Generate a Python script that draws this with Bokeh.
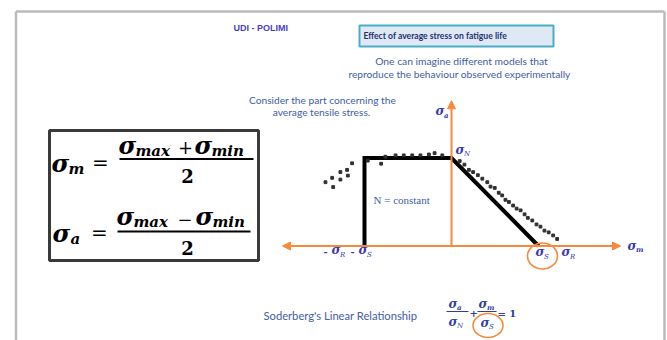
from bokeh.plotting import figure
from bokeh.models import Range1d, Arrow, NormalHead
from bokeh.embed import file_html
from bokeh.resources import INLINE
from bokeh.core.properties import value

# ---------------- data (stresses in MPa) ----------------
sigma_S = 350          # yield strength
sigma_R = 460          # ultimate strength
sigma_N = 200          # fatigue limit at N cycles
axis_m_half = 680      # extent of sigma_m axis
axis_a_top = 330       # extent of sigma_a axis

# Soderberg-type limit (closed polyline): -sigma_S .. sigma_S
limit_m = [-sigma_S, -sigma_S, 0, sigma_S]
limit_a = [0, sigma_N, sigma_N, 0]

# experimental points, compressive mean stress side
exp_left_m = [-507, -480, -476, -447, -447, -420, -417, -400, -337, -283,
              -266, -225, -192, -158, -125, -91, -68, -37]
exp_left_a = [145, 155, 134, 168, 151, 173, 160, 188, 194, 187,
              203, 206, 206, 206, 206, 208, 211, 206]
# experimental points, tensile mean stress side
exp_right_m = [33, 52, 70, 87, 106, 124, 144, 157, 174, 190, 204, 217, 231,
               248, 262, 278, 294, 307, 325, 342, 358, 374, 391, 409, 425]
exp_right_a = [193, 185, 173, 168, 161, 153, 145, 135, 132, 121, 115, 105, 100,
               92, 85, 81, 72, 64, 58, 49, 44, 35, 31, 24, 16]

# ---------------- layout ----------------
W, H = 667, 340
ORIGIN_X, ORIGIN_Y = 451, 245.5   # page position of the diagram origin
PX_PER_M = 87 / sigma_S
PX_PER_A = 88 / sigma_N

ORANGE = "#F58A3C"
BLUE = "#3F5DAA"
SIG = "#3535B5"

p = figure(width=W, height=H, x_range=Range1d(0, W), y_range=Range1d(H, 0),
           output_backend="svg", toolbar_location=None, min_border=0,
           x_axis_location=None, y_axis_location=None)
p.grid.visible = False
p.outline_line_color = None
p.background_fill_color = "white"
p.border_fill_color = "white"

p.extra_x_ranges = {"sm": Range1d((0 - ORIGIN_X) / PX_PER_M, (W - ORIGIN_X) / PX_PER_M)}
p.extra_y_ranges = {"sa": Range1d((ORIGIN_Y - H) / PX_PER_A, (ORIGIN_Y - 0) / PX_PER_A)}


def txt(x, y, s, size, color="black", font="Lato", style="normal", align="left", baseline="middle"):
    p.text(x=[x], y=[y], text=[s], text_font=value(font), text_font_size=f"{size}px",
           text_font_style=style, text_color=color, text_align=align, text_baseline=baseline)


# slide frame
p.line([15.5, 15.5], [340, 11], line_color="#BBBBBB", line_width=2.5)
p.line([15.5, 664], [11, 11], line_color="#BBBBBB", line_width=2.5)
p.line([664, 664], [11, 340], line_color="#BBBBBB", line_width=2.5)

# header texts
txt(233, 27, "UDI - POLIMI", 9, "#4B3FC0", "Liberation Sans", "bold")
p.quad(left=[359], right=[553], top=[25], bottom=[46], fill_color="#DFE9F5",
       line_color="#4BACC6", line_width=2)
txt(363, 35.5, "Effect of average stress on fatigue life", 8.6, "#1F2F6F", "Lato", "bold")
txt(461, 60, "One can imagine different models that", 10.3, BLUE, "Lato", align="center")
txt(459, 73, "reproduce the behaviour observed experimentally", 10.2, BLUE, "Lato", align="center")
txt(322, 99, "Consider the part concerning the", 10.2, BLUE, "Lato", align="center")
txt(321, 111.5, "average tensile stress.", 10.2, BLUE, "Lato", align="center")

# formula box
p.quad(left=[49], right=[258], top=[130], bottom=[260], fill_color=None,
       line_color="#3A3A3A", line_width=3)
F = "DejaVu Serif"
SIGMA_SZ, SUB_SZ = 24, 15
# row 1
txt(51, 163, "σ", SIGMA_SZ, font=F, style="bold italic")
txt(68, 168, "m", SUB_SZ, font=F, style="bold italic")
txt(100, 162, "=", 20, font=F, align="center")
txt(118, 145, "σ", SIGMA_SZ, font=F, style="bold italic")
txt(135, 150, "max", SUB_SZ, font=F, style="bold italic")
txt(185, 146, "+", 18, font=F, align="center")
txt(194, 145, "σ", SIGMA_SZ, font=F, style="bold italic")
txt(211, 150, "min", SUB_SZ, font=F, style="bold italic")
p.line([119, 253], [158.5, 158.5], line_color="black", line_width=1.8)
txt(187, 175, "2", 18, font=F, style="bold", align="center")
# row 2
txt(52, 233, "σ", SIGMA_SZ, font=F, style="bold italic")
txt(70, 238, "a", SUB_SZ, font=F, style="bold italic")
txt(99, 232, "=", 20, font=F, align="center")
txt(116, 216, "σ", SIGMA_SZ, font=F, style="bold italic")
txt(133, 221, "max", SUB_SZ, font=F, style="bold italic")
txt(184.5, 218, "−", 18, font=F, align="center")
txt(195, 216, "σ", SIGMA_SZ, font=F, style="bold italic")
txt(212, 221, "min", SUB_SZ, font=F, style="bold italic")
p.line([117, 250], [231, 231], line_color="black", line_width=1.8)
txt(187, 247, "2", 18, font=F, style="bold", align="center")

# ---------------- diagram (stress coordinates) ----------------
head = dict(size=8, fill_color=ORANGE, line_color=ORANGE)
p.add_layout(Arrow(start=NormalHead(**head), end=NormalHead(**head),
                   x_start=-axis_m_half, y_start=0, x_end=axis_m_half, y_end=0,
                   line_color=ORANGE, line_width=2, x_range_name="sm", y_range_name="sa"))
p.add_layout(Arrow(end=NormalHead(**head), x_start=0, y_start=0, x_end=0, y_end=axis_a_top,
                   line_color=ORANGE, line_width=2, x_range_name="sm", y_range_name="sa"))

p.line(limit_m, limit_a, line_color="black", line_width=4, line_join="miter",
       x_range_name="sm", y_range_name="sa")
p.scatter(exp_left_m, exp_left_a, marker="square", size=2.8, color="#303030",
          x_range_name="sm", y_range_name="sa")
p.scatter(exp_right_m, exp_right_a, marker="square", size=2.8, color="#303030",
          x_range_name="sm", y_range_name="sa")

# highlight circles (page coordinates)
p.ellipse(x=[542], y=[255.5], width=30, height=26, width_units="screen", height_units="screen",
          fill_color=None, line_color=ORANGE, line_width=1.6)

# diagram labels (page coordinates)
SF = "DejaVu Serif"
txt(435, 110, "σ", 12, SIG, SF, "bold italic")
txt(443.5, 115, "a", 7, SIG, SF, "bold italic")
txt(455, 149, "σ", 12, SIG, SF, "bold italic")
txt(463.5, 153, "N", 7, SIG, SF, "italic")
txt(627, 245, "σ", 12, SIG, SF, "bold italic")
txt(635.5, 249, "m", 7, SIG, SF, "bold italic")
txt(323, 251, "-", 10, SIG, SF, "bold")
txt(331, 249, "σ", 12, SIG, SF, "bold italic")
txt(339.5, 254, "R", 7, SIG, SF, "italic")
txt(350, 251, "-", 10, SIG, SF, "bold")
txt(358, 249, "σ", 12, SIG, SF, "bold italic")
txt(366.5, 254, "S", 7, SIG, SF, "italic")
txt(535, 251, "σ", 12, SIG, SF, "bold italic")
txt(543.5, 256, "S", 7, SIG, SF, "italic")
txt(561, 251, "σ", 12, SIG, SF, "bold italic")
txt(569.5, 256, "R", 7, SIG, SF, "italic")
txt(373, 199, "N = constant", 11, BLUE, "Liberation Serif")

# bottom: Soderberg relation
txt(263, 315, "Soderberg's Linear Relationship", 11.2, BLUE, "Lato")
BF = "#2F3F9F"
txt(448, 303, "σ", 12, BF, SF, "bold italic")
txt(456.5, 307, "a", 7, BF, SF, "bold italic")
p.line([446, 468], [311, 311], line_color=BF, line_width=1)
txt(448, 321, "σ", 12, BF, SF, "bold italic")
txt(456.5, 325, "N", 7, BF, SF, "italic")
txt(469, 313, "+", 10, BF, SF, "bold")
txt(478, 303, "σ", 12, BF, SF, "bold italic")
txt(486.5, 307, "m", 7, BF, SF, "bold italic")
p.line([477, 496], [311, 311], line_color=BF, line_width=1)
txt(480, 322, "σ", 12, BF, SF, "bold italic")
txt(488.5, 326, "S", 7, BF, SF, "italic")
txt(497, 313, "= 1", 10, BF, SF, "bold")
p.ellipse(x=[487.5], y=[325], width=30, height=24, width_units="screen", height_units="screen",
          fill_color=None, line_color=ORANGE, line_width=1.6)

open("out.html", "w").write(file_html(p, INLINE))
